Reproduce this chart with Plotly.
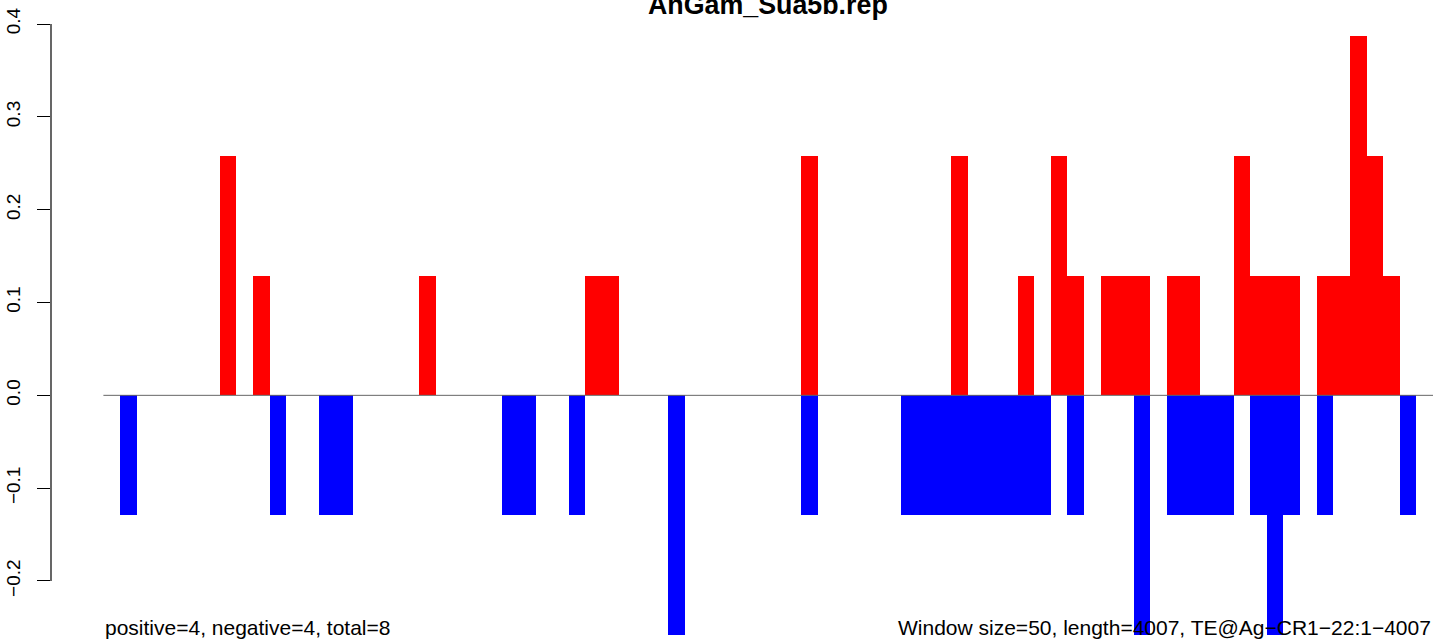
import plotly.graph_objects as go

# ---- data (window index, 50 bp windows) ----
pos_windows = [7, 9, 19, 29, 30, 42, 51, 55, 57, 58, 60, 61, 62, 64, 65,
               68, 69, 70, 71, 73, 74, 75, 76, 77]
pos_values = [0.258, 0.129, 0.129, 0.129, 0.129, 0.258, 0.258, 0.129, 0.258,
              0.129, 0.129, 0.129, 0.129, 0.129, 0.129, 0.258, 0.129, 0.129,
              0.129, 0.129, 0.129, 0.387, 0.258, 0.129]
neg_windows = [1, 10, 13, 14, 24, 25, 28, 34, 42, 48, 49, 50, 51, 52, 53, 54,
               55, 56, 58, 62, 64, 65, 66, 67, 69, 70, 71, 73, 78]
neg_values = [-0.129, -0.129, -0.129, -0.129, -0.129, -0.129, -0.129, -0.258,
              -0.129, -0.129, -0.129, -0.129, -0.129, -0.129, -0.129, -0.129,
              -0.129, -0.129, -0.129, -0.258, -0.129, -0.129, -0.129, -0.129,
              -0.129, -0.258, -0.129, -0.129, -0.129]
n_windows = 80
y_tickvals = [-0.2, -0.1, 0.0, 0.1, 0.2, 0.3, 0.4]
y_ticktext = ["\u22120.2", "\u22120.1", "0.0", "0.1", "0.2", "0.3", "0.4"]
title = "AnGam_Sua5b.rep"
left_note = "positive=4, negative=4, total=8"
right_note = "Window size=50, length=4007, TE@Ag\u2212CR1\u221222:1\u22124007"

FONT = "Liberation Sans, Arial, Helvetica, sans-serif"

fig = go.Figure()
fig.add_trace(go.Bar(x=[w + 0.5 for w in pos_windows], y=pos_values, width=1,
                     marker=dict(color="#FF0000", line=dict(width=0)),
                     showlegend=False, hoverinfo="skip"))
fig.add_trace(go.Bar(x=[w + 0.5 for w in neg_windows], y=neg_values, width=1,
                     marker=dict(color="#0000FF", line=dict(width=0)),
                     showlegend=False, hoverinfo="skip"))

# baseline
fig.add_shape(type="line", xref="x", yref="y", x0=0, x1=n_windows, y0=0, y1=0,
              line=dict(color="#666666", width=1), layer="above")
# y axis line (R style, only between extreme ticks)
fig.add_shape(type="line", xref="paper", yref="y", x0=0, x1=0,
              y0=y_tickvals[0], y1=y_tickvals[-1],
              line=dict(color="black", width=1.2))

fig.add_annotation(text="<b>" + title + "</b>", xref="x", yref="paper",
                   x=n_windows / 2, y=1.0006,
                   xanchor="center", yanchor="middle", showarrow=False,
                   font=dict(family=FONT, size=26.8, color="black"))
fig.add_annotation(text=left_note, xref="x", yref="paper", x=0, y=0.0154,
                   xanchor="left", yanchor="middle", showarrow=False,
                   font=dict(family=FONT, size=21, color="black"))
fig.add_annotation(text=right_note, xref="x", yref="paper", x=n_windows, y=0.0154,
                   xanchor="right", yanchor="middle", showarrow=False,
                   font=dict(family=FONT, size=21, color="black"))

fig.update_layout(
    width=1441, height=639, autosize=False,
    margin=dict(l=51, r=8, t=5, b=2, pad=0),
    plot_bgcolor="white", paper_bgcolor="white",
    barmode="overlay", bargap=0,
    font=dict(family=FONT, color="black"),
    xaxis=dict(range=[-3.153, n_windows], visible=False, showgrid=False,
               zeroline=False, automargin=False),
    yaxis=dict(range=[-0.26033, 0.42047], tickvals=y_tickvals, ticktext=y_ticktext,
               tickangle=-90, ticks="outside", ticklen=13, tickwidth=1.2,
               tickcolor="black", showline=False, showgrid=False, zeroline=False,
               tickfont=dict(family=FONT, size=19, color="black"),
               ticklabelstandoff=9, automargin=False),
)

fig.write_html("out.html", config={"displayModeBar": False},
               post_script="document.body.style.margin='0';document.body.style.padding='0';document.body.style.overflow='hidden';")
